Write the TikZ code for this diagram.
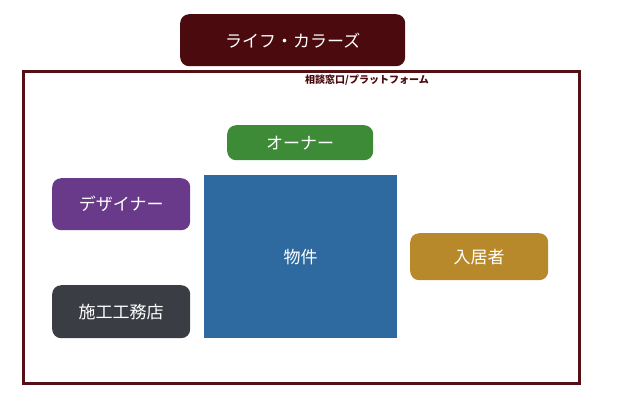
\documentclass[tikz,border=0pt]{standalone}
\usepackage{fontspec}
\setmainfont{Noto Sans CJK JP}
\begin{document}
\begin{tikzpicture}[x=1pt,y=-1pt,
  pill/.style={rounded corners=9pt,text=white,font=\fontsize{17}{20}\selectfont,inner sep=0pt,anchor=north west}]
\useasboundingbox (0,0) rectangle (617,416);
\node[pill,fill={rgb,255:red,74;green,10;blue,14},minimum width=225pt,minimum height=52pt] (lc) at (180,14) {ライフ・カラーズ};
\node[draw={rgb,255:red,84;green,16;blue,20},line width=3pt,minimum width=556pt,minimum height=312pt,anchor=north west,inner sep=0pt] (frame) at (22,70) {};
\node[font=\bfseries\fontsize{10}{12}\selectfont,text={rgb,255:red,74;green,10;blue,14},anchor=west,inner sep=0pt] (lab) at (305,80) {相談窓口/プラットフォーム};
\node[pill,fill={rgb,255:red,61;green,139;blue,55},minimum width=146pt,minimum height=35pt] (own) at (227,125) {オーナー};
\node[pill,fill={rgb,255:red,106;green,58;blue,138},minimum width=138pt,minimum height=52pt] (des) at (52,178) {デザイナー};
\node[fill={rgb,255:red,46;green,106;blue,160},minimum width=193pt,minimum height=163pt,anchor=north west,inner sep=0pt,text=white,font=\fontsize{17}{20}\selectfont] (prop) at (204,175) {物件};
\node[pill,fill={rgb,255:red,184;green,137;blue,42},minimum width=138pt,minimum height=47pt] (res) at (410,233) {入居者};
\node[pill,fill={rgb,255:red,58;green,62;blue,68},minimum width=138pt,minimum height=53pt] (con) at (52,285) {施工工務店};
\end{tikzpicture}
\end{document}
